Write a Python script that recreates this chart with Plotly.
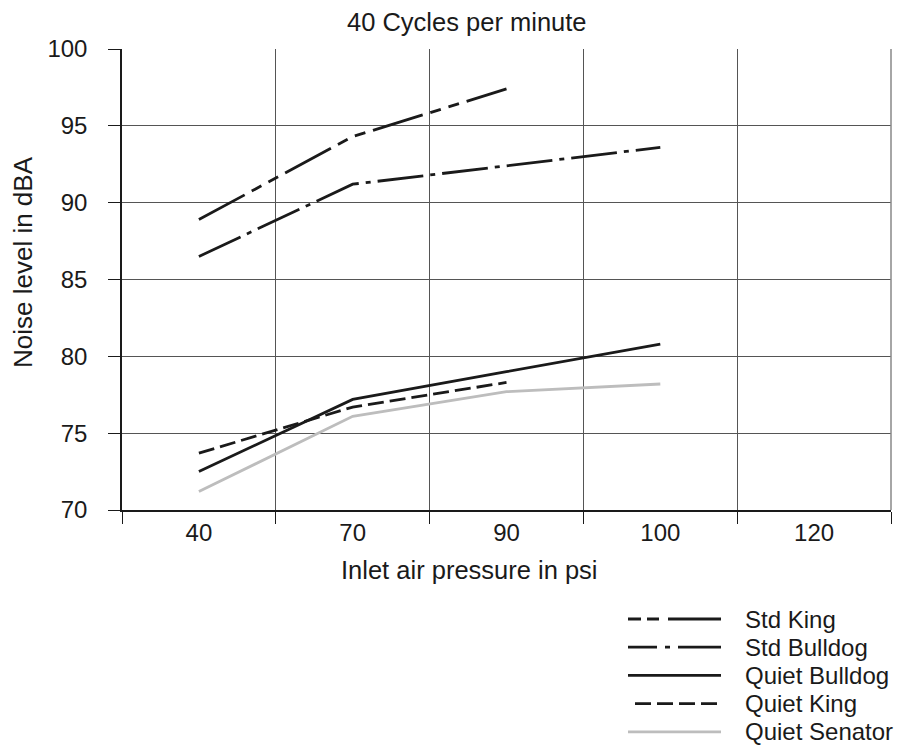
import plotly.graph_objects as go

pressure = ["40", "70", "90", "100", "120"]
std_king = [88.9, 94.3, 97.4, None, None]
std_bulldog = [86.5, 91.2, None, 93.6, None]
quiet_bulldog = [72.5, 77.2, 79.0, 80.8, None]
quiet_king = [73.7, 76.7, 78.3, None, None]
quiet_senator = [71.2, 76.1, 77.7, 78.2, None]

names = ["Std King", "Std Bulldog", "Quiet Bulldog", "Quiet King", "Quiet Senator"]
values = [std_king, std_bulldog, quiet_bulldog, quiet_king, quiet_senator]
colors = ["#1a1a1a", "#1a1a1a", "#1a1a1a", "#1a1a1a", "#bdbdbd"]
plot_dash = ["52px,8px,11px,8px,11px,8px", "46px,7px,5px,7px", "solid", "16px,6px", "solid"]
legend_dash = ["13px,6px,12px,9px,53px,30px", "29px,8px,5px,8px,43px,30px", "solid", "16px,6px", "solid"]

W, H = 901, 746
# target plot box in window pixels: x 122..891, y 49..510
L, T = 122, 49
PW, PH = 891 - 122, 510 - 49
R = W - L - PW
B = H - T - PH
font = "Liberation Sans, Arial, Helvetica, sans-serif"


def px(xw):
    return (xw - L) / PW


def py(yw):
    return (T + PH - yw) / PH


fig = go.Figure()
for name, vals, color, dash in zip(names, values, colors, plot_dash):
    fig.add_trace(go.Scatter(
        x=pressure, y=vals, name=name, mode="lines", connectgaps=True,
        line=dict(color=color, width=2.8, dash=dash),
        showlegend=False,
    ))

annotations = [
    dict(text="40 Cycles per minute", x=px(467), y=py(22), xref="paper", yref="paper",
         showarrow=False, xanchor="center", yanchor="middle", font=dict(size=25.5)),
    dict(text="Inlet air pressure in psi", x=px(469), y=py(570), xref="paper", yref="paper",
         showarrow=False, xanchor="center", yanchor="middle", font=dict(size=25.5)),
    dict(text="Noise level in dBA", x=px(23), y=py(262), xref="paper", yref="paper",
         showarrow=False, xanchor="center", yanchor="middle", textangle=-90,
         font=dict(size=26)),
]
shapes = [
    dict(type="line", xref="paper", yref="paper", x0=1, x1=1, y0=0, y1=1,
         line=dict(color="#888888", width=1.5)),
]
# manual legend, rows built from the series lists
for i, (name, color, dash) in enumerate(zip(names, colors, legend_dash)):
    yrow = 619 + 28.2 * i
    x0 = 635 if name == "Quiet King" else 628
    shapes.append(dict(type="line", xref="paper", yref="paper",
                       x0=px(x0), x1=px(721), y0=py(yrow), y1=py(yrow),
                       line=dict(color=color, width=2.8, dash=dash)))
    annotations.append(dict(text=name, x=px(743), y=py(yrow), xref="paper", yref="paper",
                            showarrow=False, xanchor="left", yanchor="middle",
                            font=dict(size=24)))

fig.update_layout(
    width=W, height=H,
    margin=dict(l=L, r=R, t=T, b=B),
    paper_bgcolor="white", plot_bgcolor="white",
    font=dict(family=font, color="#1a1a1a", size=24),
    showlegend=False,
    annotations=annotations,
    shapes=shapes,
)

fig.update_xaxes(
    type="category", range=[-0.5, 4.5],
    showline=True, linecolor="#1a1a1a", linewidth=1.5,
    showgrid=True, gridcolor="#555555", gridwidth=1,
    ticks="outside", ticklen=12, tickcolor="#1a1a1a", tickwidth=1.2,
    tickson="boundaries",
    tickfont=dict(size=24),
    zeroline=False, automargin=False,
)
fig.update_yaxes(
    range=[70, 100], dtick=5,
    showline=True, linecolor="#1a1a1a", linewidth=1.5,
    showgrid=True, gridcolor="#555555", gridwidth=1,
    ticks="outside", ticklen=12, tickcolor="#1a1a1a", tickwidth=1.2,
    tickfont=dict(size=24), ticklabelstandoff=16,
    zeroline=False, automargin=False,
)

fig.write_html(
    "out.html",
    config={"displayModeBar": False},
    post_script="document.body.style.margin='0';document.body.style.overflow='hidden';",
)
